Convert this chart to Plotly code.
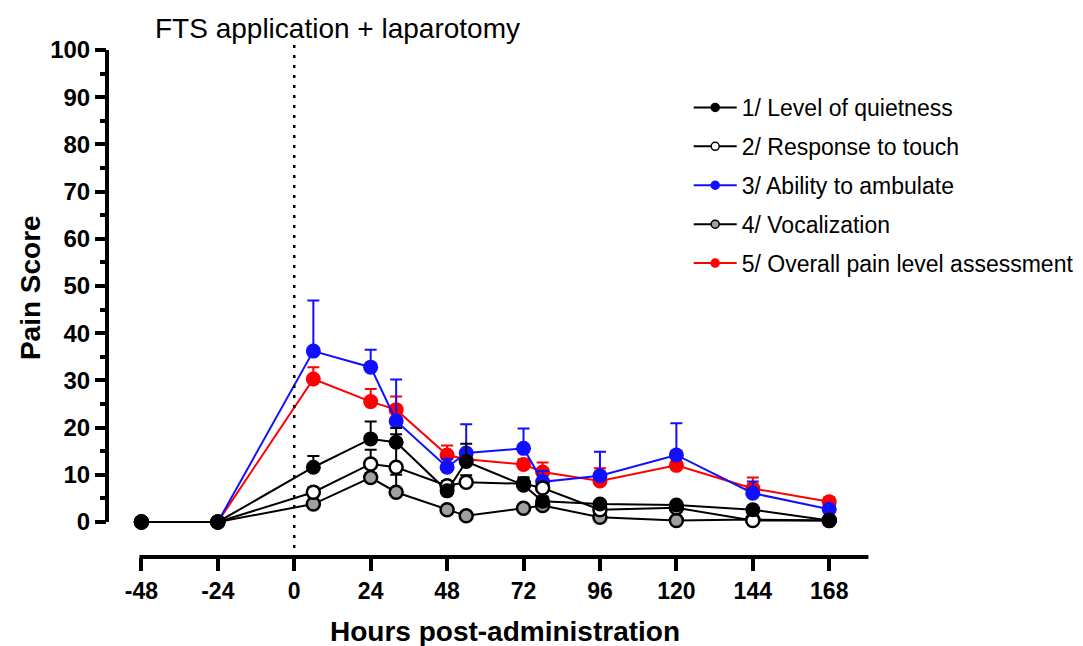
import plotly.graph_objects as go

# ---- data ----
hours = [-48, -24, 6, 24, 32, 48, 54, 72, 78, 96, 120, 144, 168]

quietness = [0, 0, 11.6, 17.6, 16.9, 6.6, 12.8, 7.8, 4.4, 3.8, 3.6, 2.6, 0.3]
quietness_err = [0, 0, 2.4, 3.7, 3.0, 1.0, 3.8, 1.7, 1.0, 0.5, 0.5, 0.3, 0.3]

touch = [0, 0, 6.3, 12.3, 11.6, 7.7, 8.4, 8.1, 7.2, 2.6, 3.0, 0.3, 0.3]
touch_err = [0, 0, 1.0, 3.0, 7.0, 1.0, 1.5, 1.0, 1.0, 0.5, 0.5, 0.3, 0.3]

ambulate = [0, 0, 36.2, 32.8, 21.4, 11.6, 14.6, 15.6, 8.5, 9.8, 14.2, 6.1, 2.7]
ambulate_err = [0, 0, 10.7, 3.7, 8.8, 1.8, 6.1, 4.2, 2.3, 5.1, 6.7, 2.5, 0.5]

vocal = [0, 0, 3.8, 9.4, 6.3, 2.6, 1.3, 2.9, 3.5, 1.0, 0.3, 0.5, 0.3]
vocal_err = [0, 0, 0.8, 1.0, 3.7, 0.5, 0.5, 0.5, 0.5, 0.3, 0.3, 0.3, 0.3]

overall = [0, 0, 30.3, 25.5, 23.8, 14.2, 13.3, 12.2, 10.6, 8.7, 12.0, 7.1, 4.3]
overall_err = [0, 0, 2.5, 2.7, 2.8, 2.0, 1.5, 1.1, 2.0, 2.7, 3.1, 2.3, 0.9]

names = ["1/ Level of quietness", "2/ Response to touch", "3/ Ability to ambulate",
         "4/ Vocalization", "5/ Overall pain level assessment"]

x_ticks = [-48, -24, 0, 24, 48, 72, 96, 120, 144, 168]
x_tick_text = ["-48", "-24", "0", "24", "48", "72", "96", "120", "144", "168"]
y_ticks = [0, 10, 20, 30, 40, 50, 60, 70, 80, 90, 100]
y_minor = [5, 15, 25, 35, 45, 55, 65, 75, 85, 95]

BLUE = "rgb(16,16,255)"
RED = "rgb(255,0,0)"
GRAY = "rgb(160,160,160)"
FONT = "Arial, Liberation Sans, sans-serif"

fig = go.Figure()

# (values, errors, line colour, fill colour, outline colour) in drawing order
series = [
    (overall, overall_err, RED, RED, RED),
    (ambulate, ambulate_err, BLUE, BLUE, BLUE),
    (vocal, vocal_err, "black", GRAY, "black"),
    (touch, touch_err, "black", "white", "black"),
    (quietness, quietness_err, "black", "black", "black"),
]
for vals, errs, lc, fc, oc in series:
    outlined = fc != lc
    fig.add_trace(go.Scatter(
        x=hours, y=vals, mode="lines+markers", showlegend=False,
        line=dict(color=lc, width=2),
        marker=dict(size=13 if outlined else 15, color=fc,
                    line=dict(color=oc, width=2.5 if outlined else 0)),
        error_y=dict(type="data", symmetric=False, array=errs,
                     arrayminus=[0] * len(errs), color=lc, thickness=2, width=6),
        cliponaxis=False,
    ))

# legend-only entries (small symbols like the reference)
legend_style = [
    ("black", "black", "black"),
    ("black", "white", "black"),
    (BLUE, BLUE, BLUE),
    ("black", GRAY, "black"),
    (RED, RED, RED),
]
for i, (nm, (lc, fc, oc)) in enumerate(zip(names, legend_style)):
    fig.add_trace(go.Scatter(
        x=[None], y=[None], mode="lines+markers", name=nm, legendgroup=f"g{i}",
        line=dict(color=lc, width=2),
        marker=dict(size=8, color=fc, line=dict(color=oc, width=1.5)),
    ))

# vertical dotted line at time 0
fig.add_shape(type="line", xref="x", yref="y", x0=0, x1=0, y0=-5.5, y1=101.3,
              line=dict(color="black", width=2.5, dash="3px,7px"))
# offset axis lines (Prism style)
fig.add_shape(type="line", xref="paper", yref="y", x0=0, x1=0, y0=0, y1=100,
              line=dict(color="black", width=4))
fig.add_shape(type="line", xref="x", yref="paper", x0=-48.6, x1=180.3, y0=0, y1=0,
              line=dict(color="black", width=4))

fig.add_annotation(text="FTS application + laparotomy", xref="paper", yref="paper",
                   x=0.302, y=1.031, showarrow=False, xanchor="center", yanchor="middle",
                   font=dict(family=FONT, size=28, color="black"))
fig.add_annotation(text="Pain Score", xref="paper", yref="paper",
                   x=-0.101, y=0.526, showarrow=False, textangle=-90,
                   xanchor="center", yanchor="middle",
                   font=dict(family=FONT, size=28, color="black", weight="bold"))
fig.add_annotation(text="Hours post-administration", xref="paper", yref="paper",
                   x=0.5216, y=-0.146, showarrow=False, xanchor="center", yanchor="middle",
                   font=dict(family=FONT, size=28, color="black", weight="bold"))

fig.update_layout(
    width=1083, height=646,
    margin=dict(l=107, r=213, t=44, b=89, autoexpand=False),
    plot_bgcolor="white", paper_bgcolor="white",
    font=dict(family=FONT, color="black"),
    legend=dict(x=0.7624, y=(557 - 86) / 513, xanchor="left", yanchor="top",
                bgcolor="rgba(0,0,0,0)", font=dict(family=FONT, size=23, color="black"),
                tracegroupgap=6, traceorder="grouped", itemwidth=43),
    xaxis=dict(range=[-58.8, 180.8], tickmode="array", tickvals=x_ticks,
               ticktext=x_tick_text,
               ticks="outside", ticklen=13, tickwidth=4, tickcolor="black",
               showline=False, showgrid=False, zeroline=False,
               tickfont=dict(family=FONT, size=23, color="black", weight="bold")),
    yaxis=dict(range=[-7.42, 101.27], tickmode="array", tickvals=y_ticks,
               ticks="outside", ticklen=11, tickwidth=4, tickcolor="black",
               showline=False, showgrid=False, zeroline=False,
               minor=dict(tickmode="array", tickvals=y_minor, ticks="outside",
                          ticklen=6, tickwidth=4, tickcolor="black", showgrid=False),
               tickfont=dict(family=FONT, size=24, color="black", weight="bold")),
)

fig.write_html("out.html", post_script="document.body.style.margin='0';",
               config={"displayModeBar": False})
